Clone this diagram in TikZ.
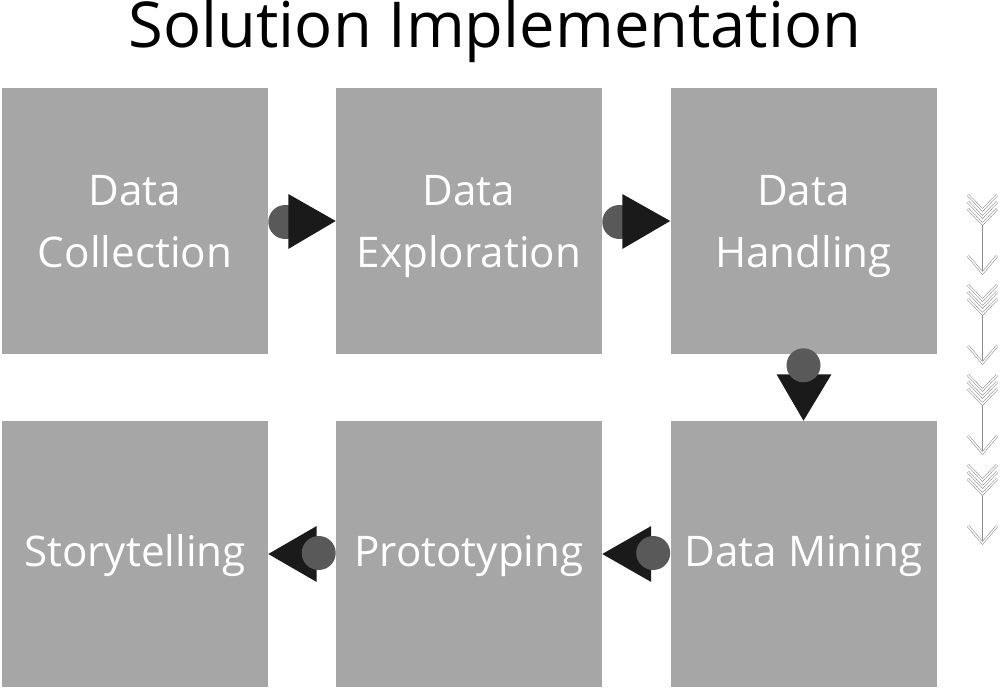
\documentclass[tikz,border=0pt]{standalone}
\usepackage{fontspec}
\setmainfont{Open Sans}
\usetikzlibrary{calc}
\definecolor{boxgray}{HTML}{A6A6A6}
\definecolor{dotgray}{HTML}{595959}
\definecolor{tipblack}{HTML}{1A1A1A}
\tikzset{
  stage/.style={fill=boxgray,minimum width=266*0.025cm,minimum height=266*0.025cm,inner sep=0pt},
  caption/.style={text=white,align=center,font=\fontsize{30}{44}\selectfont,inner sep=0pt,
    execute at end node=\strut},
  knob/.style={fill=dotgray},
  tipshape/.style={fill=tipblack},
  chev/.style={draw=gray!90,double=white,double distance=1pt,line width=0.4pt}
}
\begin{document}
\begin{tikzpicture}[x=0.025cm,y=-0.025cm]
		\useasboundingbox (0,0) rectangle (1001,690);
		\node[font=\fontsize{45}{50}\selectfont,anchor=base] (title) at (495,48) {Solution Implementation};
		% top row
		\node[stage] (coll) at (135,221) {};
		\node[stage] (expl) at (469,221) {};
		\node[stage] (hand) at (803.5,221) {};
		\node[caption] (collT) at ([yshift=-7pt]coll.center) {Data\\Collection};
		\node[caption] (explT) at ([yshift=-7pt]expl.center) {Data\\Exploration};
		\node[caption] (handT) at ([yshift=-7pt]hand.center) {Data\\Handling};
		% bottom row
		\node[stage] (story) at (135,554) {};
		\node[stage] (proto) at (469,554) {};
		\node[stage] (mine) at (803.5,554) {};
		\node[caption] (storyT) at (story.center) {Storytelling};
		\node[caption] (protoT) at (proto.center) {Prototyping};
		\node[caption] (mineT) at (mine.center) {Data Mining};
		% connectors right
		\fill[knob] ($(coll.east)+(17,1)$) circle (17);
		\fill[tipshape] ($(coll.east)+(20,-27)$) -- (expl.west) -- ($(coll.east)+(20,28)$) -- cycle;
		\fill[knob] ($(expl.east)+(17,1)$) circle (17);
		\fill[tipshape] ($(expl.east)+(20,-27)$) -- (hand.west) -- ($(expl.east)+(20,28)$) -- cycle;
		% connector down
		\fill[tipshape] ($(hand.south)+(-27,20)$) -- (mine.north) -- ($(hand.south)+(28,20)$) -- cycle;
		\fill[knob] ($(hand.south)+(0,11)$) circle (17);
		% connectors left
		\fill[tipshape] ($(mine.west)+(-19,-28)$) -- (proto.east) -- ($(mine.west)+(-19,28)$) -- cycle;
		\fill[knob] ($(mine.west)+(-17,-1)$) circle (17);
		\fill[tipshape] ($(proto.west)+(-19,-28)$) -- (story.east) -- ($(proto.west)+(-19,28)$) -- cycle;
		\fill[knob] ($(proto.west)+(-17,-1)$) circle (17);
		% chevron arrows on the right
		\foreach \y in {195,285,375,465} {
			\draw[gray!90,line width=0.6pt] (982.5,\y+28) -- (982.5,\y+78);
			\foreach \d in {0,7,14}
				\draw[chev] (968,\y+\d) -- (982.5,\y+\d+15) -- (997,\y+\d);
			\draw[chev] (968,\y+61) -- (982.5,\y+78) -- (997,\y+61);
		}
\end{tikzpicture}
\end{document}
